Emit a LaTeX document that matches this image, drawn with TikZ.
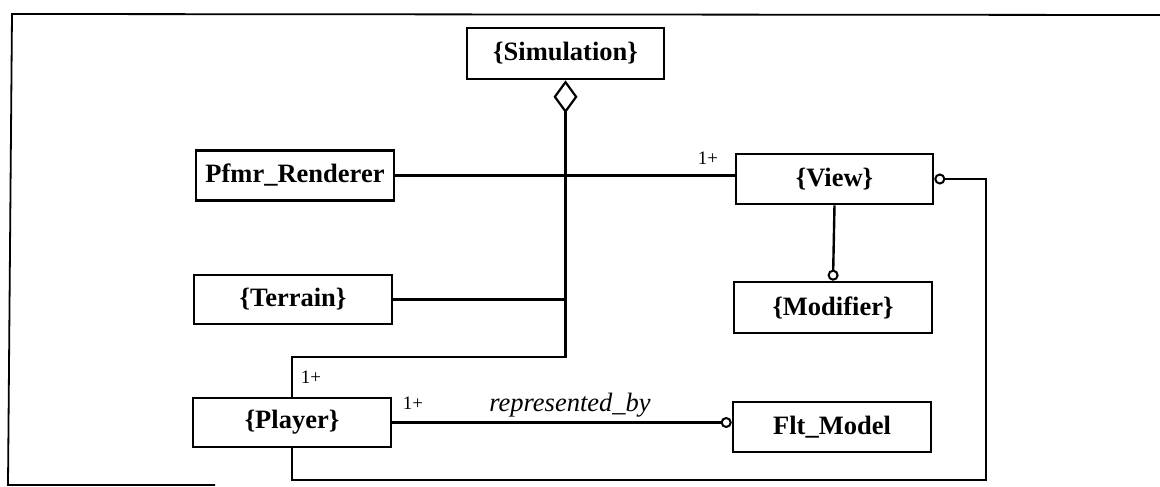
\documentclass[tikz,border=0pt]{standalone}
\usepackage{fontspec}
\setmainfont{Liberation Serif}
\usetikzlibrary{arrows.meta}
\tikzset{
  box/.style={draw, line width=2.6pt, minimum width=198pt, minimum height=50pt, inner sep=0pt,
    font=\bfseries\fontsize{26.5}{30}\selectfont},
  conn/.style={line width=2.4pt},
  agg/.style={conn, {Diamond[open, length=33pt, width=24pt, line width=2.2pt]}-},
  mult/.style={font=\fontsize{19}{22}\selectfont, inner sep=0pt},
  role/.style={font=\itshape\fontsize{26.5}{30}\selectfont, inner sep=0pt},
  frame/.style={line width=1.8pt}
}
\begin{document}
\begin{tikzpicture}[x=1pt,y=-1pt]
\useasboundingbox (0,0) rectangle (1160,487);
% outer frame (partially visible)
\draw[frame] (1160,15) -- (12,14) -- (8,485) -- (215,485);
% boxes
\node[box, minimum width=197pt, minimum height=51pt] (sim) at (565.5,53.5) {\{Simulation\}};
\node[box] (pfmr) at (295,175.5) {Pfmr\_Renderer};
\node[box, minimum width=197pt] (view) at (834.5,179) {\{View\}};
\node[box, minimum height=49pt] (terrain) at (293,299.5) {\{Terrain\}};
\node[box, minimum height=51pt] (modifier) at (833,307.5) {\{Modifier\}};
\node[box, minimum height=49pt] (player) at (292,422.5) {\{Player\}};
\node[box] (flt) at (832,427) {Flt\_Model};
% junction coordinates
\coordinate (j1) at (567,357);
\coordinate (rc) at (986,480);
% aggregation from Simulation to Player (and Terrain)
\draw[agg] (sim.south) -- (sim.south |- j1) -| (player.north);
\draw[conn] (terrain.east) -- (terrain.east -| sim.south);
% Pfmr_Renderer -- View
\draw[conn] (pfmr.east) -- (pfmr.east -| view.west);
\node[mult, anchor=base] (m1) at (708,164) {1+};
% View -- Modifier
\draw[conn, -{Circle[open, length=11pt, line width=2pt]}] (view.south) -- (modifier.north);
% View -- Player (around right side and bottom)
\draw[conn, {Circle[open, length=11pt, line width=2pt]}-] (view.east) -| (rc) -| (player.south);
% Player -- Flt_Model
\draw[conn, -{Circle[open, length=11pt, line width=2pt]}] (player.east) -- (player.east -| flt.west);
\node[mult, anchor=base] (m2) at (311,383) {1+};
\node[mult, anchor=base] (m3) at (413,409) {1+};
\node[role, anchor=base] (rb) at (570,411) {represented\_by};
\end{tikzpicture}
\end{document}
